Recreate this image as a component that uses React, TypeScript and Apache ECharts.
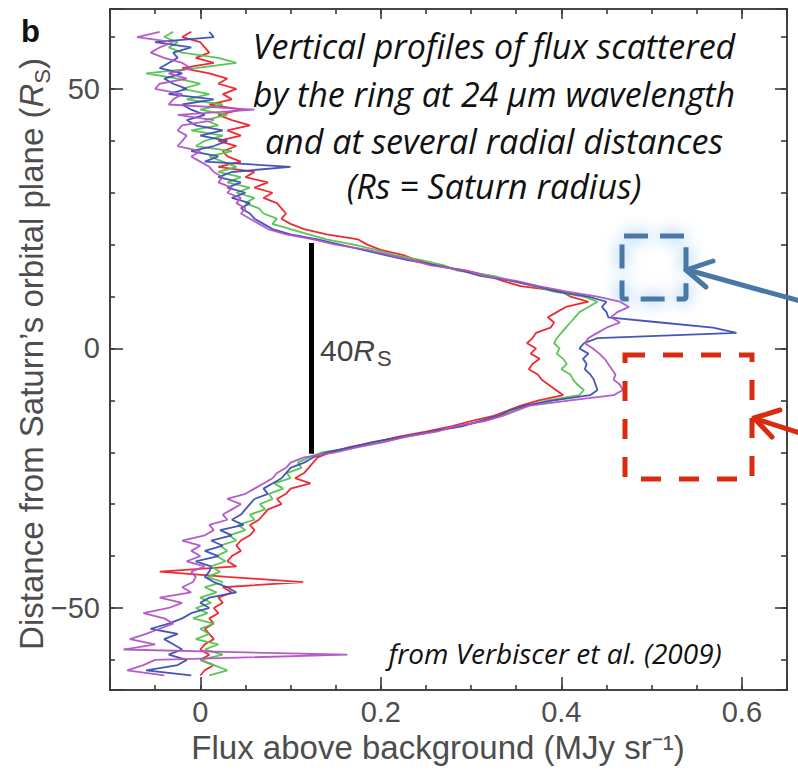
import React, { useEffect, useRef } from "react";
import * as echarts from "echarts";

// Vertical coordinate of each sample (Saturn radii), top to bottom
const distances = [
  61, 60, 59, 58, 57, 56, 55, 54, 53, 52, 51, 50, 49, 48, 47, 46, 45, 44, 43, 42, 41,
  40, 39, 38, 37, 36, 35, 34, 33, 32, 31, 30, 29, 28, 27, 26, 25, 24, 23, 22, 21,
  20, 19, 18, 17, 16, 15, 14, 13, 12, 11, 10, 9, 8, 7, 6, 5, 4, 3, 2, 1,
  0, -1, -2, -3, -4, -5, -6, -7, -8, -9, -10, -11, -12, -13, -14, -15, -16, -17, -18, -19,
  -20, -21, -22, -23, -24, -25, -26, -27, -28, -29, -30, -31, -32, -33, -34, -35, -36, -37, -38, -39,
  -40, -41, -42, -43, -44, -45, -46, -47, -48, -49, -50, -51, -52, -53, -54, -55, -56, -57, -58, -59,
  -60, -61, -62, -63,
];

// Flux above background, in units of 0.001 MJy sr^-1, one value per distance
const redFlux = [
  -10, -20, 0, 5, 10, -5, 15, -20, 10, 30, 20, 40, 25, 35, 10, 45, 20, 35, 55, 30, 45,
  20, 40, 25, 30, 45, 20, 60, 50, 75, 60, 80, 70, 85, 90, 95, 90, 100, 115, 140, 175,
  185, 200, 225, 240, 260, 295, 320, 335, 355, 400, 410, 430, 405, 395, 385, 392, 388, 372, 368, 362,
  372, 366, 376, 368, 364, 374, 378, 386, 394, 402, 375, 355, 340, 325, 300, 278, 250, 220, 195, 165,
  145, 130, 125, 120, 115, 105, 122, 100, 95, 85, 90, 75, 70, 65, 55, 60, 55, 45, 40, 45,
  35, 30, 40, -45, 30, 114, 25, 35, 20, 25, 15, 20, 10, 15, 5, 10, 15, 5, 0, 10,
  0, 15, 5, 0,
];
const greenFlux = [
  -30, -40, -25, -35, -20, 20, 40, -5, -60, -25, 0, -20, 10, -15, 25, 0, 30, 5, 20, -10, 25,
  5, -5, 35, 10, 25, 40, 20, 45, 30, 55, 40, 60, 50, 65, 70, 85, 80, 100, 120, 140,
  170, 195, 215, 245, 270, 285, 325, 345, 370, 390, 425, 440, 430, 420, 415, 410, 405, 400, 395, 392,
  398, 395, 402, 406, 400, 410, 413, 418, 425, 420, 385, 362, 348, 332, 312, 285, 258, 230, 200, 172,
  135, 120, 108, 112, 96, 100, 82, 92, 76, 80, 66, 72, 55, 60, 42, 50, 32, 40, 22, 30,
  18, 28, 12, 22, 8, 25, 5, 18, 0, 12, -5, 8, -8, 15, 0, 10, -5, 20, 5, 25,
  0, 15, 30, 10,
];
const blueFlux = [
  10, 15, -50, -10, -30, -25, -35, -45, -20, -40, -30, -15, -35, 15, -20, -10, 5, -15, -5, 25, 0,
  30, 15, -10, 20, 5, 100, 35, 20, 45, 30, 50, 35, 55, 45, 55, 60, 70, 80, 100, 130,
  155, 180, 205, 230, 262, 290, 310, 345, 372, 395, 430, 450, 445, 450, 452, 510, 568, 594, 440, 425,
  420, 430, 424, 428, 426, 432, 436, 438, 440, 432, 392, 360, 342, 330, 310, 290, 255, 225, 192, 168,
  140, 125, 115, 100, 95, 90, 80, 70, 75, 60, 55, 50, 45, 35, 48, 22, 35, 12, 25, 5,
  20, -5, 12, 10, 5, 15, 30, 40, 10, 0, 10, -10, -20, -35, -55, -25, -40, -30, -20, -35,
  -15, -25, -60, -10,
];
const magentaFlux = [
  -45, -70, -30, -45, -55, -40, -20, -10, -35, -15, -45, -50, -20, -30, -35, 60, -25, 15, -20, -25, -15,
  -20, -25, 0, -10, 0, 10, 15, 25, 20, 35, 30, 45, 40, 50, 45, 55, 65, 75, 95, 125,
  150, 185, 210, 235, 255, 295, 315, 350, 375, 405, 440, 465, 475, 462, 455, 465, 450, 440, 430, 426,
  435, 442, 448, 452, 456, 460, 458, 465, 468, 458, 410, 365, 350, 335, 315, 282, 262, 228, 205, 175,
  150, 115, 100, 95, 85, 80, 70, 60, 50, 30, 45, 35, 25, 30, 10, 15, 5, -20, 0, -10,
  0, -15, 5, -10, -5, -8, -20, -10, -45, -20, -35, -63, -40, -30, -45, -60, -78, -50, -85, 163,
  -50, -63, -81, -40,
];

const seriesNames = ["red", "green", "blue", "magenta"];
const seriesColors = ["#ec2027", "#52c24c", "#3a4db5", "#b253c6"];
const seriesFlux = [redFlux, greenFlux, blueFlux, magentaFlux];

// Axis ranges and tick labels
const xRange = [-0.1, 0.65];
const yRange = [-65.8, 65.4];
const xTickLabels = ["0", "0.2", "0.4", "0.6"];
const xTickValues = [0, 0.2, 0.4, 0.6];
const yTickLabels = ["50", "0", "\u221250"];
const yTickValues = [50, 0, -50];

// 40 Rs scale bar (data coordinates)
const scaleBarX = 0.123;
const scaleBarEnds = [-20.3, 20.3];

const titleLines = [
  "Vertical profiles of flux scattered",
  "by the ring at 24 \u03bcm wavelength",
  "and at several radial distances",
  "(Rs = Saturn radius)",
];

const AXIS_COLOR = "#3a3a3a";
const LABEL_COLOR = "#4d4d4d";
const SANS = '"Liberation Sans", Arial, sans-serif';
const NOTE = '"Open Sans", sans-serif';

function toPoints(flux: number[]) {
  return flux.map((f, i) => [f / 1000, distances[i]]);
}

function labelFor(values: number[], labels: string[]) {
  return (v: number) => {
    for (let i = 0; i < values.length; i++) {
      if (Math.abs(v - values[i]) < 1e-6) return labels[i];
    }
    return "";
  };
}

function makeXAxis(position: "top" | "bottom", step: number, tickLen: number, withLabels: boolean) {
  return {
    type: "value",
    position,
    min: xRange[0],
    max: xRange[1],
    minInterval: step,
    maxInterval: step,
    axisLine: { show: true, onZero: false, lineStyle: { color: AXIS_COLOR, width: 1.6 } },
    axisTick: { show: true, inside: true, length: tickLen, lineStyle: { color: AXIS_COLOR, width: 1.6 } },
    axisLabel: withLabels
      ? {
          show: true,
          margin: 7,
          fontSize: 29,
          fontFamily: SANS,
          color: LABEL_COLOR,
          formatter: labelFor(xTickValues, xTickLabels),
        }
      : { show: false },
    splitLine: { show: false },
    axisPointer: { show: false },
  };
}

function makeYAxis(position: "left" | "right", step: number, tickLen: number, withLabels: boolean) {
  return {
    type: "value",
    position,
    min: yRange[0],
    max: yRange[1],
    minInterval: step,
    maxInterval: step,
    axisLine: { show: true, onZero: false, lineStyle: { color: AXIS_COLOR, width: 1.6 } },
    axisTick: { show: true, inside: true, length: tickLen, lineStyle: { color: AXIS_COLOR, width: 1.6 } },
    axisLabel: withLabels
      ? {
          show: true,
          margin: 10,
          fontSize: 29,
          fontFamily: SANS,
          color: LABEL_COLOR,
          formatter: labelFor(yTickValues, yTickLabels),
        }
      : { show: false },
    splitLine: { show: false },
    axisPointer: { show: false },
  };
}

function text(x: number, y: number, str: string, font: string, fill: string, align = "left", vAlign = "middle") {
  return {
    type: "text",
    x,
    y,
    silent: true,
    z: 100,
    style: {
      text: str,
      x: 0,
      y: 0,
      font,
      fill,
      textAlign: align,
      textVerticalAlign: vAlign,
      align,
      verticalAlign: vAlign,
    },
  };
}

export default function App() {
  const ref = useRef<HTMLDivElement>(null);

  useEffect(() => {
    if (!ref.current) return;
    const chart = echarts.init(ref.current, null, { renderer: "svg" });

    const series: any[] = seriesFlux.map((flux, i) => ({
      name: seriesNames[i],
      type: "line",
      xAxisIndex: 0,
      yAxisIndex: 0,
      data: toPoints(flux),
      showSymbol: false,
      symbol: "none",
      clip: true,
      z: 2 + i,
      lineStyle: { color: seriesColors[i], width: 1.8, opacity: 0.95 },
      itemStyle: { color: seriesColors[i] },
      emphasis: { disabled: true },
    }));
    series[0].markLine = {
      silent: true,
      symbol: ["none", "none"],
      label: { show: false },
      lineStyle: { color: "#000", width: 5, type: "solid" },
      data: [[{ coord: [scaleBarX, scaleBarEnds[0]] }, { coord: [scaleBarX, scaleBarEnds[1]] }]],
    };

    const lineYs = [46, 94, 141, 186];
    const graphic: any[] = [
      text(21, 31, "b", `bold 31px ${SANS}`, "#111", "left", "middle"),
      ...titleLines.map((t, i) => text(494, lineYs[i], t, `italic 34px ${NOTE}`, "#111", "center", "middle")),
      text(555, 653, "from Verbiscer et al. (2009)", `italic 28px ${NOTE}`, "#111", "center", "middle"),
      {
        type: "text",
        x: 31,
        y: 354,
        rotation: Math.PI / 2,
        silent: true,
        style: {
          text: "Distance from Saturn\u2019s orbital plane ({i|R}{s|S})",
          x: 0,
          y: 0,
          font: `33px ${SANS}`,
          fill: LABEL_COLOR,
          align: "center",
          verticalAlign: "middle",
          textAlign: "center",
          textVerticalAlign: "middle",
          rich: {
            i: { fontStyle: "italic", fontSize: 33, fontFamily: SANS, fill: LABEL_COLOR },
            s: { fontSize: 22, fontFamily: SANS, fill: LABEL_COLOR, verticalAlign: "bottom", padding: [0, 0, -6, 0] },
          },
        },
      },
      text(438, 747, "Flux above background (MJy sr\u207b\u00b9)", `33px ${SANS}`, LABEL_COLOR, "center", "middle"),
      {
        type: "text",
        x: 320,
        y: 350,
        silent: true,
        style: {
          text: "40{i|R}",
          x: 0,
          y: 0,
          font: `30px ${SANS}`,
          fill: "#444",
          align: "left",
          verticalAlign: "middle",
          textAlign: "left",
          textVerticalAlign: "middle",
          rich: { i: { fontStyle: "italic", fontSize: 30, fontFamily: SANS, fill: "#444" } },
        },
      },
      text(377, 358, "S", `22px ${SANS}`, "#444", "left", "middle"),
      // blue dashed box with glow
      {
        type: "rect",
        silent: true,
        z: 90,
        shape: { x: 622, y: 236, width: 64, height: 63, r: 2 },
        style: {
          fill: "none",
          stroke: "#4a78a6",
          lineWidth: 5,
          lineDash: [24, 12],
          lineDashOffset: 0,
          shadowBlur: 16,
          shadowColor: "rgba(95,170,240,1)",
        },
      },
      {
        type: "polyline",
        silent: true,
        z: 90,
        shape: { points: [[800, 301], [688, 270]] },
        style: { stroke: "#4a78a6", lineWidth: 5, lineCap: "round", fill: "none" },
      },
      {
        type: "polyline",
        silent: true,
        z: 90,
        shape: { points: [[713, 261], [686, 270], [706, 287]] },
        style: { stroke: "#4a78a6", lineWidth: 5, lineCap: "round", lineJoin: "round", fill: "none" },
      },
      // red dashed box
      {
        type: "rect",
        silent: true,
        z: 90,
        shape: { x: 625, y: 355, width: 127, height: 124 },
        style: { fill: "none", stroke: "#d92b12", lineWidth: 5, lineDash: [20, 18] },
      },
      {
        type: "polyline",
        silent: true,
        z: 90,
        shape: { points: [[800, 433], [756, 419]] },
        style: { stroke: "#d92b12", lineWidth: 5, lineCap: "round", fill: "none" },
      },
      {
        type: "polyline",
        silent: true,
        z: 90,
        shape: { points: [[780, 410], [754, 418], [772, 437]] },
        style: { stroke: "#d92b12", lineWidth: 5, lineCap: "round", lineJoin: "round", fill: "none" },
      },
    ];

    chart.setOption({
      animation: false,
      backgroundColor: "#ffffff",
      grid: { left: 110, right: 11, top: 9, bottom: 83, containLabel: false },
      xAxis: [
        makeXAxis("bottom", 0.05, 5, false),
        makeXAxis("bottom", 0.2, 13, true),
        makeXAxis("top", 0.05, 5, false),
        makeXAxis("top", 0.2, 10, false),
      ],
      yAxis: [
        makeYAxis("left", 10, 5, false),
        makeYAxis("left", 50, 13, true),
        makeYAxis("right", 10, 6, false),
        makeYAxis("right", 50, 12, false),
      ],
      series,
      graphic,
    });

    return () => chart.dispose();
  }, []);

  return (
    <div
      ref={ref}
      style={{ position: "absolute", left: 0, top: 0, width: 798, height: 773, background: "#fff" }}
    />
  );
}
